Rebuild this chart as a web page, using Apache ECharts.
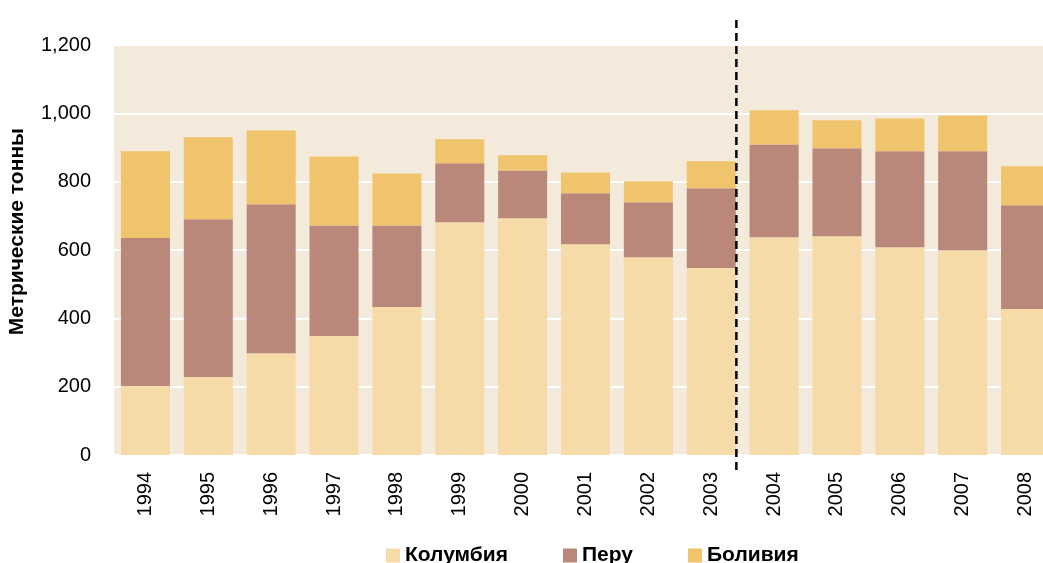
<!DOCTYPE html>
<html>
<head>
<meta charset="utf-8">
<script src="https://cdn.jsdelivr.net/npm/echarts@6/dist/echarts.min.js"></script>
<style>
  html, body { margin: 0; padding: 0; background: #fff; overflow: hidden; }
  /* plot runs past the right edge in the original, so the canvas is a bit wider than the window */
  #chart { width: 1057px; height: 563px; }
</style>
</head>
<body>
<div id="chart"></div>
<script>
var years = ['1994','1995','1996','1997','1998','1999','2000','2001','2002','2003','2004','2005','2006','2007','2008'];
var colombia = [202, 228, 298, 348, 433, 681, 693, 617, 579, 547, 637, 640, 608, 599, 427];
var peru     = [433, 462, 436, 324, 239, 173, 140, 149, 161, 234, 272, 258, 281, 290, 304];
var bolivia  = [254, 240, 216, 202, 152,  70,  44,  61,  61,  79, 100,  82,  96, 105, 114];
var yTicks = [0, 200, 400, 600, 800, 1000, 1200];
// break between 2003 and 2004 (position along the category bands)
var breakPos = 9.9;

var myChart = echarts.init(document.getElementById('chart'));

var font = '"Liberation Sans", Arial, sans-serif';
var colors = ['#f6daa7', '#b9887a', '#f0c36d'];

var option = {
    animation: false,
    textStyle: { fontFamily: font },
    color: colors,
    grid: [
        { left: 114, right: 0, top: 45, bottom: 108, show: true, backgroundColor: '#f4eadb', borderWidth: 0 },
        { left: 114, right: 0, top: 15, bottom: 93 }
    ],
    legend: {
        bottom: -8,
        left: 381,
        itemWidth: 14,
        itemHeight: 14,
        itemGap: 55,
        icon: 'rect',
        textStyle: { fontFamily: font, fontSize: 21, fontWeight: 'bold', color: '#000' },
        data: ['Колумбия', 'Перу', 'Боливия']
    },
    graphic: [{
        type: 'text',
        left: 7,
        top: 128,
        rotation: Math.PI / 2,
        style: {
            text: 'Метрические тонны',
            font: 'bold 21px ' + font,
            fill: '#000'
        }
    }],
    xAxis: [{
        type: 'category',
        gridIndex: 0,
        data: years,
        axisLine: { show: false },
        axisTick: { show: false },
        axisLabel: { rotate: 90, margin: 17, fontSize: 20, color: '#000', fontFamily: font }
    }, {
        type: 'value',
        gridIndex: 1,
        min: 0,
        max: years.length,
        show: false
    }],
    yAxis: [{
        type: 'value',
        gridIndex: 0,
        min: yTicks[0],
        max: yTicks[yTicks.length - 1],
        interval: 200,
        axisLine: { show: false },
        axisTick: { show: false },
        splitLine: { lineStyle: { color: '#ffffff', width: 2 } },
        axisLabel: {
            margin: 23,
            fontSize: 20,
            color: '#000',
            fontFamily: font,
            formatter: function (v) { return v.toString().replace(/\B(?=(\d{3})+(?!\d))/g, ','); }
        }
    }, {
        type: 'value',
        gridIndex: 1,
        min: 0,
        max: 1,
        show: false
    }],
    series: [{
        name: 'Колумбия',
        type: 'bar',
        stack: 'total',
        barCategoryGap: '22%',
        data: colombia
    }, {
        name: 'Перу',
        type: 'bar',
        stack: 'total',
        data: peru
    }, {
        name: 'Боливия',
        type: 'bar',
        stack: 'total',
        data: bolivia
    }, {
        type: 'line',
        xAxisIndex: 1,
        yAxisIndex: 1,
        symbol: 'none',
        silent: true,
        lineStyle: { color: '#000', width: 2.5, type: [8, 5] },
        data: [[breakPos, 0], [breakPos, 1]]
    }]
};

myChart.setOption(option);
</script>
</body>
</html>
